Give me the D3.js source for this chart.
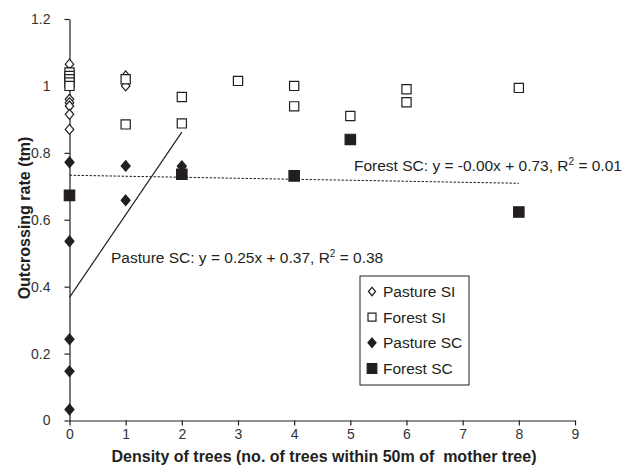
<!DOCTYPE html>
<html>
<head>
<meta charset="utf-8">
<script src="https://cdn.jsdelivr.net/npm/d3@7"></script>
<style>
  body { margin: 0; background: #fff; }
  svg { font-family: "Liberation Sans", Arial, sans-serif; }
</style>
</head>
<body>
<svg id="chart" width="631" height="468"></svg>
<script>
// data: [density, outcrossing rate]
var pastureSI = [[0, 1.065], [0, 1.04], [0, 1.02], [0, 1.0], [0, 0.96], [0, 0.95], [0, 0.94],
                 [0, 0.915], [0, 0.87], [1, 1.03], [1, 1.015], [1, 1.0]];
var forestSI = [[0, 1.04], [0, 1.03], [0, 1.02], [0, 1.01], [0, 1.0], [1, 1.02], [1, 0.885],
                [2, 0.967], [2, 0.888], [3, 1.015], [4, 1.0], [4, 0.939], [5, 0.91],
                [6, 0.99], [6, 0.951], [8, 0.994]];
var pastureSC = [[0, 0.772], [0, 0.536], [0, 0.243], [0, 0.147], [0, 0.033],
                 [1, 0.761], [1, 0.658], [2, 0.76]];
var forestSC = [[0, 0.673], [2, 0.736], [4, 0.731], [5, 0.84], [8, 0.623]];

// trend lines: [slope, intercept, x from, x to]
var pastureFit = [0.247, 0.368, 0, 2];
var forestFit = [-0.003, 0.733, 0, 8];

var xTicks = [0, 1, 2, 3, 4, 5, 6, 7, 8, 9];
var yTicks = [0, 0.2, 0.4, 0.6, 0.8, 1, 1.2];
var legendNames = ["Pasture SI", "Forest SI", "Pasture SC", "Forest SC"];

var svg = d3.select("svg#chart");
var ink = "#231f20";

var x = d3.scaleLinear().domain([0, 9]).range([69.5, 575]);
var y = d3.scaleLinear().domain([0, 1.2]).range([420.5, 19]);

// axes
var xAxis = svg.append("g")
    .attr("transform", "translate(0," + y(0) + ")")
    .call(d3.axisBottom(x).tickValues(xTicks).tickFormat(d3.format("d"))
          .tickSize(5).tickSizeOuter(0).tickPadding(4));

var yAxis = svg.append("g")
    .attr("transform", "translate(" + x(0) + ",0)")
    .call(d3.axisLeft(y).tickValues(yTicks).tickFormat(function(d) { return String(d); })
          .tickSize(5).tickSizeOuter(0).tickPadding(14));

svg.selectAll(".domain, .tick line").attr("stroke", ink).attr("stroke-width", 1.2);
svg.selectAll(".tick text").attr("fill", "#333").style("font-size", "14px")
   .style("font-family", "'Liberation Sans', Arial, sans-serif");

// axis titles
svg.append("text")
   .attr("x", 324).attr("y", 462)
   .attr("text-anchor", "middle")
   .style("font-size", "16px").style("font-weight", "bold")
   .style("white-space", "pre")
   .attr("fill", ink)
   .text("Density of trees (no. of trees within 50m of  mother tree)");

svg.append("text")
   .attr("transform", "translate(30,218) rotate(-90)")
   .attr("text-anchor", "middle")
   .style("font-size", "16px").style("font-weight", "bold")
   .attr("fill", ink)
   .text("Outcrossing rate (tm)");

// trend lines
function fitLine(f) {
    return [[f[2], f[1] + f[0] * f[2]], [f[3], f[1] + f[0] * f[3]]];
}
var line = d3.line().x(function(d) { return x(d[0]); }).y(function(d) { return y(d[1]); });

svg.append("path")
   .attr("d", line(fitLine(forestFit)))
   .attr("fill", "none").attr("stroke", ink).attr("stroke-width", 1)
   .attr("stroke-dasharray", "2.5,1.5");

svg.append("path")
   .attr("d", line(fitLine(pastureFit)))
   .attr("fill", "none").attr("stroke", ink).attr("stroke-width", 1.2);

// marker shapes
function diamond(r) {
    return "M0," + (-r) + "L" + (r * 0.85) + ",0L0," + r + "L" + (-r * 0.85) + ",0Z";
}
function square(r) {
    return "M" + (-r) + "," + (-r) + "h" + (2 * r) + "v" + (2 * r) + "h" + (-2 * r) + "Z";
}

var series = [
    {data: pastureSI, shape: diamond(5), fill: "#fff", stroke: ink},
    {data: forestSI, shape: square(4.6), fill: "#fff", stroke: ink},
    {data: pastureSC, shape: diamond(5.3), fill: ink, stroke: ink},
    {data: forestSC, shape: square(5.2), fill: ink, stroke: ink}
];

series.forEach(function(s) {
    svg.append("g").selectAll("path")
       .data(s.data)
       .enter().append("path")
       .attr("transform", function(d) { return "translate(" + x(d[0]) + "," + y(d[1]) + ")"; })
       .attr("d", s.shape)
       .attr("fill", s.fill)
       .attr("stroke", s.stroke)
       .attr("stroke-width", 1.2);
});

// equations
var eq1 = svg.append("text").attr("x", 354).attr("y", 171)
   .style("font-size", "15.5px").attr("fill", ink);
eq1.append("tspan").text("Forest SC: y = -0.00x + 0.73, R");
eq1.append("tspan").attr("dy", -6).style("font-size", "10px").text("2");
eq1.append("tspan").attr("dy", 6).text(" = 0.01");

var eq2 = svg.append("text").attr("x", 111).attr("y", 263)
   .style("font-size", "15.5px").attr("fill", ink);
eq2.append("tspan").text("Pasture SC: y = 0.25x + 0.37, R");
eq2.append("tspan").attr("dy", -6).style("font-size", "10px").text("2");
eq2.append("tspan").attr("dy", 6).text(" = 0.38");

// legend
var legend = svg.append("g");
legend.append("rect")
      .attr("x", 360).attr("y", 276).attr("width", 109).attr("height", 109)
      .attr("fill", "#fff").attr("stroke", ink).attr("stroke-width", 1);

var legendShapes = [diamond(4.2), square(4), diamond(4.8), square(4.8)];
var ly = d3.scalePoint().domain(legendNames).range([291.5, 368.5]);

legend.selectAll("path.key")
      .data(legendNames)
      .enter().append("path")
      .attr("class", "key")
      .attr("transform", function(d) { return "translate(372," + ly(d) + ")"; })
      .attr("d", function(d, i) { return legendShapes[i]; })
      .attr("fill", function(d, i) { return series[i].fill; })
      .attr("stroke", ink).attr("stroke-width", 1.2);

legend.selectAll("text")
      .data(legendNames)
      .enter().append("text")
      .attr("x", 383).attr("y", function(d) { return ly(d); })
      .attr("dy", "0.36em")
      .style("font-size", "15.5px").attr("fill", ink)
      .text(function(d) { return d; });
</script>
</body>
</html>
